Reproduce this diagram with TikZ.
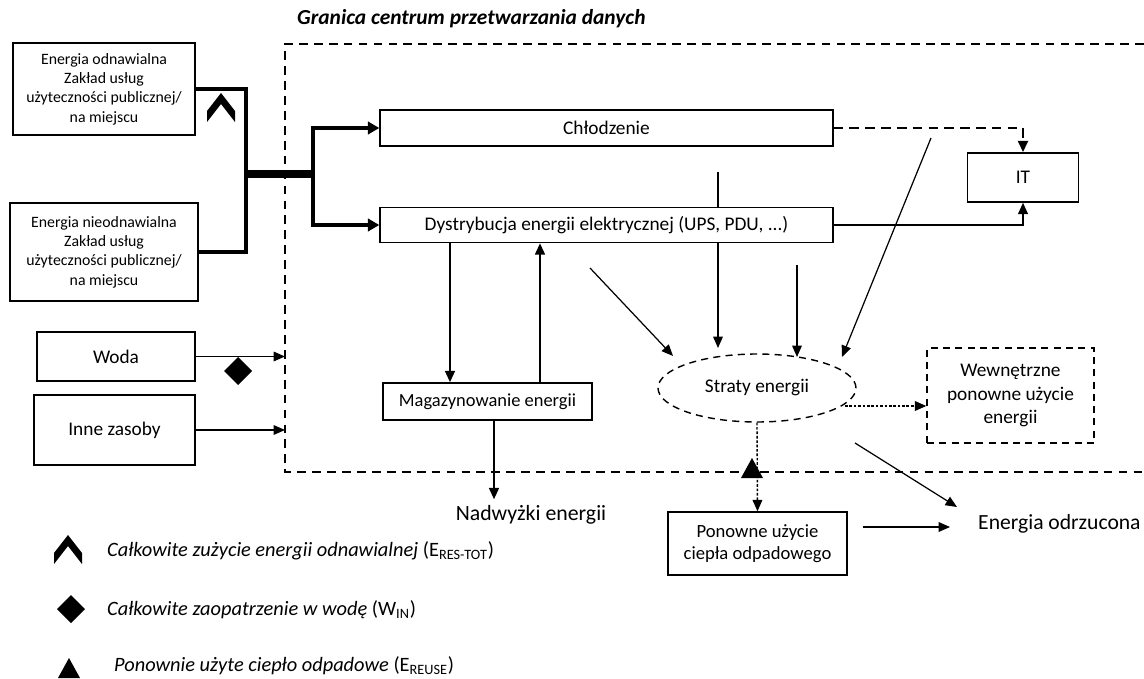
\documentclass[tikz,border=0pt]{standalone}
\usepackage{fontspec}
\setmainfont{Carlito}
\usetikzlibrary{arrows.meta,shapes.geometric}
\tikzset{
  bx/.style={draw,line width=0.8pt,fill=white,align=center,inner sep=0pt,font=\fontsize{11}{13.5}\selectfont},
  src/.style={bx,font=\fontsize{9}{11}\selectfont},
  fd/.style={line width=2pt},
  trk/.style={line width=4pt},
  tp/.style={-{Triangle[length=6.5pt,width=5.5pt]}},
  tpw/.style={-{Triangle[length=6.5pt,width=7pt]}},
  ln/.style={line width=0.7pt,tp},
  st/.style={line width=1.4pt,tp},
  pw/.style={line width=1.2pt,tp},
  cd/.style={line width=1.7pt,dash pattern=on 5.5pt off 3.5pt,tp},
  rd/.style={line width=0.8pt,dash pattern=on 1.5pt off 1pt,tp},
  bd/.style={line width=0.8pt,dash pattern=on 5pt off 3.5pt},
  lg/.style={anchor=west,font=\fontsize{11.6}{13}\selectfont}
}
\newcommand{\mkchev}[2]{\fill (#1-14,#2+4) -- (#1,#2-14) -- (#1+14,#2+4) -- (#1+14,#2+15) -- (#1,#2-3) -- (#1-14,#2+15) -- cycle;}
\newcommand{\mkdiam}[2]{\fill (#1-14,#2) -- (#1,#2-14) -- (#1+14,#2) -- (#1,#2+14) -- cycle;}
\newcommand{\mktri}[2]{\fill (#1-11,#2+10) -- (#1,#2-10) -- (#1+11,#2+10) -- cycle;}

\begin{document}
\begin{tikzpicture}[x=0.02cm,y=-0.02cm]
\useasboundingbox (0,0) rectangle (1144,679);
\node[anchor=west,font=\fontsize{12.2}{14}\selectfont\bfseries\itshape] (ttl) at (291,19) {Granica centrum przetwarzania danych};
\draw[bd] (1144,44) -| (285,472) -- (1144,472);

\coordinate (a2) at (718,172); \coordinate (b2) at (718,348);
\draw[ln] (a2) -- (b2);

\node[src,minimum width=3.64cm,minimum height=1.84cm] (ren) at (104,89) {Energia odnawialna\\Zakład usług\\użyteczności publicznej/\\na miejscu};
\node[src,minimum width=3.76cm,minimum height=1.96cm] (nren) at (104,252) {Energia nieodnawialna\\Zakład usług\\użyteczności publicznej/\\na miejscu};
\node[bx,minimum width=3.16cm,minimum height=0.98cm] (woda) at (116,356.5) {Woda};
\node[bx,minimum width=3.22cm,minimum height=1.4cm] (inne) at (114.5,430) {Inne zasoby};
\node[bx,minimum width=9.06cm,minimum height=0.72cm] (chl) at (606.5,128) {Chłodzenie};
\node[bx,minimum width=9.06cm,minimum height=0.7cm] (dys) at (606.5,225) {Dystrybucja energii elektrycznej (UPS, PDU, ...)};
\node[bx,minimum width=2.22cm,minimum height=0.98cm] (it) at (1023,177.5) {IT};
\node[bx,font=\fontsize{10.5}{12}\selectfont,minimum width=4.18cm,minimum height=0.74cm] (mag) at (487.5,401.5) {Magazynowanie energii};
\node[bx,ellipse,dash pattern=on 4pt off 3pt,minimum width=3.96cm,minimum height=1.36cm] (str) at (757,388) {Straty energii};
\node[bx,dash pattern=on 4pt off 3pt,minimum width=3.34cm,minimum height=1.9cm] (wew) at (1010.5,395.5) {Wewnętrzne\\ponowne użycie\\energii};
\node[bx,font=\fontsize{10.6}{12.8}\selectfont,minimum width=3.58cm,minimum height=1.26cm] (pon) at (757.5,543.5) {Ponowne użycie\\ciepła odpadowego};
\node[font=\fontsize{12.4}{14}\selectfont] (nad) at (531,515) {Nadwyżki energii};
\node[anchor=west,font=\fontsize{12.3}{14}\selectfont] (odr) at (972,524) {Energia odrzucona};

\coordinate (jn) at (246,174); \coordinate (br) at (313,174); \coordinate (bx) at (285,0);
\draw[fd] (ren.east) -| (jn);
\draw[fd] (nren.east) -| (jn);
\draw[trk] (jn) -- (br);
\draw[fd,tpw] (br) |- (chl.west);
\draw[fd,tpw] (br) |- (dys.west);
\mkchev{221}{107}
\draw[ln] (woda.east) -- (woda.east -| bx);
\draw[ln] (inne.east) -- (inne.east -| bx);
\mkdiam{238}{371}

\draw[cd] (chl.east) -| (it.north);
\draw[pw] (dys.east) -| (it.south);

\coordinate (xd) at (450,0); \coordinate (xu) at (540,0); \coordinate (xn) at (494,0);
\draw[st] (dys.south -| xd) -- (mag.north -| xd);
\draw[st] (mag.north -| xu) -- (dys.south -| xu);
\draw[st] (mag.south -| xn) -- (xn |- nad.north);

\coordinate (a1) at (590,268); \coordinate (b1) at (673,356);
\coordinate (a3) at (797,265); \coordinate (b3) at (797,357);
\coordinate (a4) at (931,138); \coordinate (b4) at (842,357);
\draw[ln] (a1) -- (b1);
\draw[ln] (a3) -- (b3);
\draw[ln] (a4) -- (b4);

\coordinate (r1) at (845,406);
\draw[rd] (r1) -- (r1 -| wew.west);
\draw[rd] (str.south) -- (pon.north);
\mktri{752}{468}

\coordinate (w1) at (855,443); \coordinate (w2) at (957,507); \coordinate (p1) at (863,527);
\draw[ln] (w1) -- (w2);
\draw[ln,shorten >=12.5pt] (p1) -- (p1 -| odr.west);

\mkchev{68}{549}
\node[lg] (lg1) at (101,551) {\textit{Całkowite zużycie energii odnawialnej} (E\textsubscript{RES-TOT})};
\mkdiam{71}{609}
\node[lg] (lg2) at (101,610) {\textit{Całkowite zaopatrzenie w wodę} (W\textsubscript{IN})};
\mktri{69}{668}
\node[lg] (lg3) at (108,666) {\textit{Ponownie użyte ciepło odpadowe} (E\textsubscript{REUSE})};
\end{tikzpicture}
\end{document}
